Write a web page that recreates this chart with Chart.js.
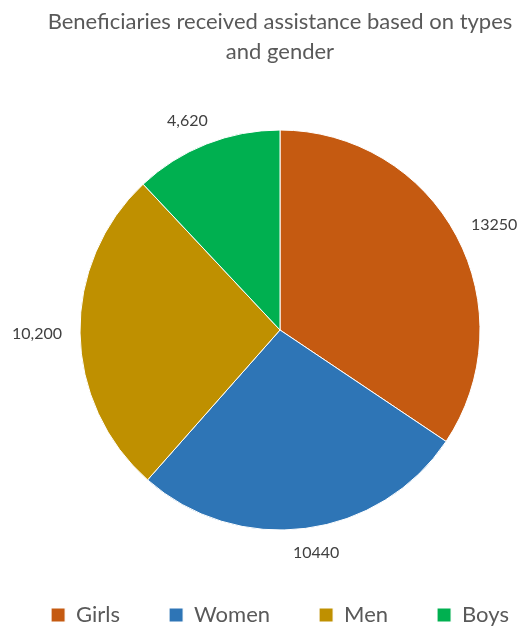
<!DOCTYPE html>
<html>
<head>
<meta charset="utf-8">
<script src="https://cdn.jsdelivr.net/npm/chart.js@4/dist/chart.umd.min.js"></script>
<style>
  html, body { margin: 0; padding: 0; background: #fff; overflow: hidden; }
  #wrap { width: 520px; height: 628px; overflow: hidden; }
</style>
</head>
<body>
<div id="wrap"><canvas id="chartCanvas" width="560" height="636"></canvas></div>
<script>
const categories = ['Girls', 'Women', 'Men', 'Boys'];
const beneficiaries = [13250, 10440, 10200, 4620];
// labels as they appear on the chart (formatting differs per slice)
const valueLabels = ['13250', '10440', '10,200', '4,620'];
const sliceColors = ['#C55A11', '#2E75B6', '#BF9000', '#00B050'];

const outsideLabels = {
  id: 'outsideLabels',
  afterDatasetsDraw(chart) {
    const ctx = chart.ctx;
    const meta = chart.getDatasetMeta(0);
    ctx.save();
    ctx.font = '16px Lato, "Open Sans", sans-serif';
    ctx.fillStyle = '#404040';
    ctx.textAlign = 'center';
    ctx.textBaseline = 'middle';
    meta.data.forEach((arc, i) => {
      const p = arc.getProps(['x', 'y', 'startAngle', 'endAngle', 'outerRadius'], true);
      const mid = (p.startAngle + p.endAngle) / 2;
      const c = Math.cos(mid), s = Math.sin(mid);
      const r = p.outerRadius + 18;
      const txt = valueLabels[i];
      const w = ctx.measureText(txt).width;
      const cx = p.x + c * r + Math.sign(c) * Math.sqrt(Math.abs(c)) * w / 2;
      const cy = p.y + s * r + s * 6.5;
      ctx.fillText(txt, cx, cy);
    });
    ctx.restore();
  }
};

function initChart() {
  const ctx = document.getElementById('chartCanvas').getContext('2d');
  new Chart(ctx, {
    type: 'pie',
    data: {
      labels: categories,
      datasets: [{
        data: beneficiaries,
        backgroundColor: sliceColors,
        borderColor: '#ffffff',
        borderWidth: 1,
        radius: 200
      }]
    },
    options: {
      responsive: false,
      animation: false,
      layout: { padding: 0 },
      plugins: {
        title: {
          display: true,
          text: ['Beneficiaries received assistance based on types', 'and gender'],
          color: '#595959',
          font: { family: 'Lato, "Open Sans", sans-serif', size: 22, weight: 'normal', lineHeight: 30 / 22 },
          padding: { top: 7, bottom: 38 }
        },
        legend: {
          position: 'bottom',
          labels: {
            color: '#595959',
            font: { family: 'Lato, "Open Sans", sans-serif', size: 22 },
            boxWidth: 14,
            boxHeight: 14,
            padding: 49
          }
        },
        tooltip: { enabled: false }
      }
    },
    plugins: [outsideLabels]
  });
}

window.addEventListener('load', initChart);
</script>
</body>
</html>
